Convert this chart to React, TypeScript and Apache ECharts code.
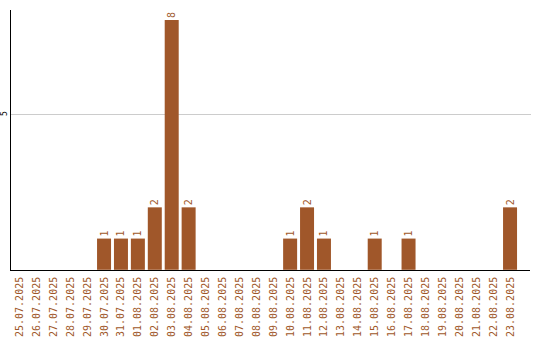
import React, { useEffect, useRef } from "react";
import * as echarts from "echarts";

const categories = [
  "25.07.2025", "26.07.2025", "27.07.2025", "28.07.2025", "29.07.2025",
  "30.07.2025", "31.07.2025", "01.08.2025", "02.08.2025", "03.08.2025",
  "04.08.2025", "05.08.2025", "06.08.2025", "07.08.2025", "08.08.2025",
  "09.08.2025", "10.08.2025", "11.08.2025", "12.08.2025", "13.08.2025",
  "14.08.2025", "15.08.2025", "16.08.2025", "17.08.2025", "18.08.2025",
  "19.08.2025", "20.08.2025", "21.08.2025", "22.08.2025", "23.08.2025",
];
const values = [0, 0, 0, 0, 0, 1, 1, 1, 2, 8, 2, 0, 0, 0, 0, 0, 1, 2, 1, 0, 0, 1, 0, 1, 0, 0, 0, 0, 0, 2];
const yTicks = [5];

const BAR = "#A0572A";

export default function App() {
  const ref = useRef<HTMLDivElement>(null);
  useEffect(() => {
    if (!ref.current) return;
    const chart = echarts.init(ref.current, null, { renderer: "svg" });
    chart.setOption({
      animation: false,
      grid: { left: 8.5, right: 21.5, top: 10, bottom: 70, containLabel: false },
      xAxis: {
        type: "category",
        data: categories,
        axisLine: { show: false },
        axisTick: { show: false },
        axisLabel: {
          rotate: 90,
          interval: 0,
          color: BAR,
          fontFamily: "DejaVu Sans Mono",
          fontSize: 10,
          margin: 7,
        },
      },
      yAxis: {
        type: "value",
        min: 0,
        max: 8.32,
        interval: 5,
        axisLine: { show: false },
        axisTick: { show: false },
        splitLine: { show: false },
        axisLabel: {
          rotate: 90,
          color: "#000",
          fontFamily: "DejaVu Sans Mono",
          fontSize: 8,
          margin: 3,
          formatter: (v: number) => (yTicks.includes(v) ? String(v) : ""),
          showMaxLabel: false,
        },
      },
      series: [
        {
          type: "bar",
          data: values,
          barWidth: 14,
          itemStyle: { color: BAR },
          label: {
            show: true,
            position: "top",
            rotate: 90,
            align: "left",
            verticalAlign: "middle",
            distance: 2,
            color: BAR,
            fontFamily: "DejaVu Sans Mono",
            fontSize: 10,
            formatter: (p: any) => (p.value ? String(p.value) : ""),
          },
        },
      ],
    });
    const gridLines = yTicks.map((t) => {
      const y = Math.round(chart.convertToPixel({ yAxisIndex: 0 }, t) as number) + 0.5;
      return {
        type: "line",
        shape: { x1: 11, y1: y, x2: 531, y2: y },
        style: { stroke: "#cccccc", lineWidth: 1 },
        z: -1,
      };
    });
    chart.setOption({
      graphic: [
        ...gridLines,
        {
          type: "line",
          shape: { x1: 10.5, y1: 10, x2: 10.5, y2: 270 },
          style: { stroke: "#000", lineWidth: 1 },
          z: 100,
        },
        {
          type: "line",
          shape: { x1: 10, y1: 270.5, x2: 530, y2: 270.5 },
          style: { stroke: "#000", lineWidth: 1 },
          z: 100,
        },
      ],
    });
    return () => chart.dispose();
  }, []);
  return <div ref={ref} style={{ width: 540, height: 340, position: "absolute", left: 0, top: 0 }} />;
}
